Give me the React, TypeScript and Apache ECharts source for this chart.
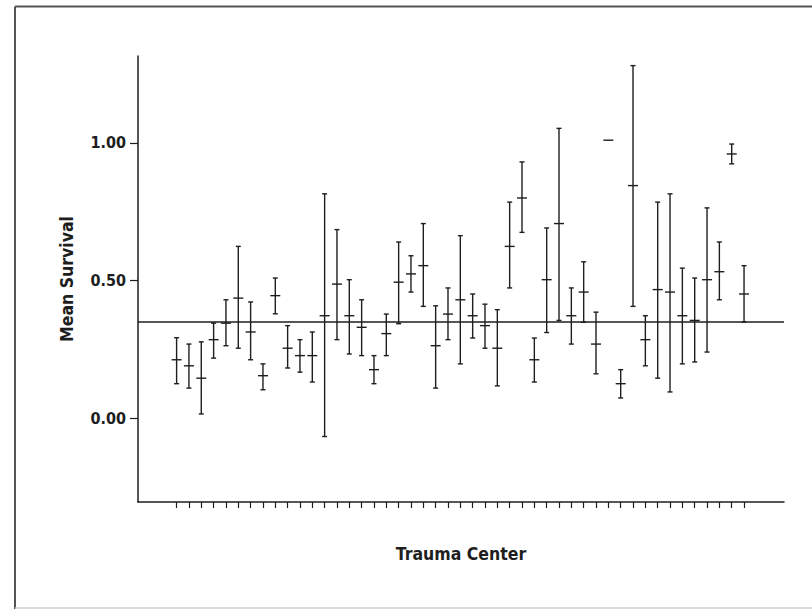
import React, { useEffect, useRef } from "react";
import * as echarts from "echarts";

const centers: number[] = Array.from({ length: 47 }, (_, i) => i + 1);
const meanSurvival: number[] = [0.212,0.190,0.145,0.285,0.345,0.436,0.313,0.154,0.445,0.254,0.227,0.227,0.372,0.487,0.372,0.330,0.176,0.307,0.494,0.524,0.554,0.263,0.378,0.430,0.372,0.336,0.254,0.624,0.800,0.212,0.503,0.707,0.372,0.458,0.269,1.010,0.125,0.845,0.285,0.467,0.458,0.372,0.355,0.503,0.532,0.960,0.451];
const lowerCI: number[] = [0.125,0.109,0.015,0.218,0.263,0.254,0.212,0.103,0.379,0.182,0.167,0.131,-0.067,0.285,0.233,0.227,0.125,0.227,0.343,0.458,0.406,0.109,0.285,0.197,0.291,0.254,0.117,0.473,0.675,0.131,0.311,0.355,0.269,0.348,0.161,1.010,0.073,0.406,0.190,0.145,0.095,0.197,0.204,0.240,0.430,0.924,0.349];
const upperCI: number[] = [0.292,0.269,0.277,0.345,0.430,0.624,0.422,0.197,0.509,0.336,0.285,0.313,0.815,0.685,0.503,0.430,0.227,0.378,0.640,0.590,0.707,0.408,0.473,0.663,0.451,0.414,0.394,0.785,0.931,0.291,0.691,1.053,0.473,0.568,0.385,1.010,0.176,1.281,0.372,0.785,0.815,0.545,0.509,0.764,0.640,0.996,0.554];
const overallMean = 0.348;
const yTickValues: number[] = [0, 0.5, 1.0];

const FONT = "'DejaVu Sans Condensed', 'Liberation Sans Narrow', 'Liberation Sans', sans-serif";
const INK = "#1e1e1e";

export default function App() {
  const ref = useRef<HTMLDivElement>(null);
  useEffect(() => {
    if (!ref.current) return;
    const chart = echarts.init(ref.current, undefined, { renderer: "svg" });
    const data = centers.map((c, i) => [c, meanSurvival[i], lowerCI[i], upperCI[i]]);
    chart.setOption({
      animation: false,
      backgroundColor: "#ffffff",
      grid: { left: 138, right: 28, top: 56, bottom: 107, containLabel: false },
      xAxis: {
        type: "value",
        min: -2.13,
        max: 50.24,
        name: "Trauma Center",
        nameLocation: "middle",
        nameGap: 43,
        nameTextStyle: { fontFamily: FONT, fontSize: 17.5, fontWeight: "bold", color: INK },
        axisLine: { show: true, onZero: false, lineStyle: { color: INK, width: 1.5 } },
        axisTick: { show: true, inside: false, length: 6, customValues: centers, lineStyle: { color: INK, width: 1.2 } },
        axisLabel: { show: false },
        splitLine: { show: false },
      },
      yAxis: {
        type: "value",
        min: -0.305,
        max: 1.316,
        name: "Mean Survival",
        nameLocation: "middle",
        nameGap: 62,
        nameTextStyle: { fontFamily: FONT, fontSize: 17.5, fontWeight: "bold", color: INK },
        axisLine: { show: true, onZero: false, lineStyle: { color: INK, width: 1.5 } },
        axisTick: { show: true, inside: false, length: 8, customValues: yTickValues, lineStyle: { color: INK, width: 1.2 } },
        axisLabel: {
          show: true,
          customValues: yTickValues,
          formatter: (v: number) => v.toFixed(2),
          fontFamily: FONT,
          fontSize: 16,
          fontWeight: "bold",
          color: INK,
          margin: 12,
        },
        splitLine: { show: false },
      },
      graphic: [
        { type: "line", shape: { x1: 15, y1: 6.5, x2: 812, y2: 6.5 }, style: { stroke: "#555", lineWidth: 2 }, z: 10 },
        { type: "line", shape: { x1: 15, y1: 6.5, x2: 15, y2: 609 }, style: { stroke: "#555", lineWidth: 2 }, z: 10 },
        { type: "line", shape: { x1: 15, y1: 608, x2: 812, y2: 608 }, style: { stroke: "#cfcfcf", lineWidth: 1.5 }, z: 10 },
      ],
      series: [
        {
          type: "custom",
          data,
          encode: { x: 0, y: [1, 2, 3] },
          renderItem: (params: any, api: any) => {
            const x = api.value(0);
            const pm = api.coord([x, api.value(1)]);
            const pl = api.coord([x, api.value(2)]);
            const ph = api.coord([x, api.value(3)]);
            const cap = 2.5;
            const half = 5;
            const st = { stroke: INK, lineWidth: 1.4 };
            const children: any[] = [
              { type: "line", shape: { x1: pm[0] - half, y1: pm[1], x2: pm[0] + half, y2: pm[1] }, style: st },
            ];
            if (Math.abs(pl[1] - ph[1]) > 0.5) {
              children.push(
                { type: "line", shape: { x1: pl[0], y1: pl[1], x2: ph[0], y2: ph[1] }, style: st },
                { type: "line", shape: { x1: pl[0] - cap, y1: pl[1], x2: pl[0] + cap, y2: pl[1] }, style: st },
                { type: "line", shape: { x1: ph[0] - cap, y1: ph[1], x2: ph[0] + cap, y2: ph[1] }, style: st }
              );
            }
            return { type: "group", children };
          },
          markLine: {
            silent: true,
            symbol: "none",
            label: { show: false },
            lineStyle: { color: INK, width: 1.5, type: "solid" },
            data: [{ yAxis: overallMean }],
          },
        },
      ],
    });
    return () => chart.dispose();
  }, []);
  return <div ref={ref} style={{ position: "absolute", left: 0, top: 0, width: 812, height: 609 }} />;
}
